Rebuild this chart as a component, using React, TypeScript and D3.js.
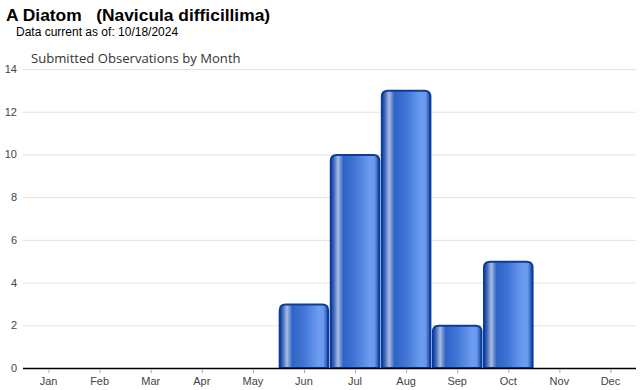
import React, { useEffect, useRef } from 'react';
import * as d3 from 'd3';

const months = ["Jan", "Feb", "Mar", "Apr", "May", "Jun", "Jul", "Aug", "Sep", "Oct", "Nov", "Dec"];
const counts = [0, 0, 0, 0, 0, 3, 10, 13, 2, 5, 0, 0];
const yTicks = [0, 2, 4, 6, 8, 10, 12, 14];

const App: React.FC = () => {
  const ref = useRef<SVGSVGElement | null>(null);

  useEffect(() => {
    if (!ref.current) return;
    const width = 640;
    const height = 390;
    const margin = { top: 69, right: 4, bottom: 22, left: 23 };

    const svg = d3.select(ref.current);
    svg.selectAll("*").remove();
    svg.attr("width", width).attr("height", height);

    const defs = svg.append("defs");
    const grad = defs.append("linearGradient")
      .attr("id", "barGrad")
      .attr("x1", "0%").attr("x2", "100%").attr("y1", "0%").attr("y2", "0%");
    [
      [0, "#0f43a8"],
      [0.06, "#3c64b8"],
      [0.15, "#a9bde0"],
      [0.26, "#2f63c6"],
      [0.5, "#4176d6"],
      [0.8, "#6c9cf0"],
      [0.9, "#6a99ec"],
      [1, "#0f43a8"],
    ].forEach(([o, c]) => grad.append("stop").attr("offset", o as number).attr("stop-color", c as string));

    const x = d3.scaleBand()
      .domain(months)
      .range([margin.left, width - margin.right])
      .paddingInner(0.03)
      .paddingOuter(0.015);

    const y = d3.scaleLinear()
      .domain([0, 14])
      .range([height - margin.bottom, margin.top]);

    // title block
    svg.append("text")
      .attr("x", 6).attr("y", 21)
      .attr("font-family", "Liberation Sans, Arial, sans-serif")
      .attr("font-size", 17.4).attr("font-weight", "bold")
      .attr("fill", "#000")
      .attr("xml:space", "preserve")
      .text("A Diatom   (Navicula difficillima)");

    svg.append("text")
      .attr("x", 16).attr("y", 36)
      .attr("font-family", "Liberation Sans, Arial, sans-serif")
      .attr("font-size", 12)
      .attr("fill", "#000")
      .text("Data current as of: 10/18/2024");

    svg.append("text")
      .attr("x", 31).attr("y", 63)
      .attr("font-family", "Open Sans, sans-serif")
      .attr("font-size", 13.1)
      .attr("fill", "#333")
      .text("Submitted Observations by Month");

    // grid
    svg.append("g")
      .selectAll("line")
      .data(yTicks.filter(t => t > 0))
      .join("line")
      .attr("x1", margin.left).attr("x2", width - margin.right)
      .attr("y1", d => y(d) + 0.5).attr("y2", d => y(d) + 0.5)
      .attr("stroke", "#e2e2e2");

    svg.append("g")
      .selectAll("text")
      .data(yTicks)
      .join("text")
      .attr("x", 17).attr("y", d => y(d) + 4)
      .attr("text-anchor", "end")
      .attr("font-family", "Liberation Sans, Arial, sans-serif")
      .attr("font-size", 11)
      .attr("fill", "#444")
      .text(d => d);

    // bars
    const r = 6;
    const base = y(0);
    svg.append("g")
      .selectAll("path")
      .data(months.map((m, i) => ({ m, v: counts[i] })).filter(d => d.v > 0))
      .join("path")
      .attr("d", d => {
        const x0 = (x(d.m) || 0) + 0.5;
        const x1 = x0 + x.bandwidth() - 1;
        const top = y(d.v) + 0.5;
        return `M${x0},${base}V${top + r}Q${x0},${top} ${x0 + r},${top}H${x1 - r}Q${x1},${top} ${x1},${top + r}V${base}Z`;
      })
      .attr("fill", "url(#barGrad)")
      .attr("stroke", "#0b3c9c")
      .attr("stroke-width", 2);

    // x axis
    svg.append("line")
      .attr("x1", margin.left).attr("x2", width - margin.right)
      .attr("y1", base + 0.5).attr("y2", base + 0.5)
      .attr("stroke", "#000").attr("stroke-width", 1.5);

    svg.append("g")
      .selectAll("line")
      .data(months)
      .join("line")
      .attr("x1", d => (x(d) || 0) + x.bandwidth() / 2 + 0.5)
      .attr("x2", d => (x(d) || 0) + x.bandwidth() / 2 + 0.5)
      .attr("y1", base + 1).attr("y2", base + 5)
      .attr("stroke", "#aaa");

    svg.append("g")
      .selectAll("text")
      .data(months)
      .join("text")
      .attr("x", d => (x(d) || 0) + x.bandwidth() / 2)
      .attr("y", base + 17)
      .attr("text-anchor", "middle")
      .attr("font-family", "Liberation Sans, Arial, sans-serif")
      .attr("font-size", 11)
      .attr("fill", "#444")
      .text(d => d);
  }, []);

  return (
    <div style={{ position: "absolute", left: 0, top: 0, background: "#fff" }}>
      <svg ref={ref} style={{ display: "block" }}></svg>
    </div>
  );
};

export default App;
